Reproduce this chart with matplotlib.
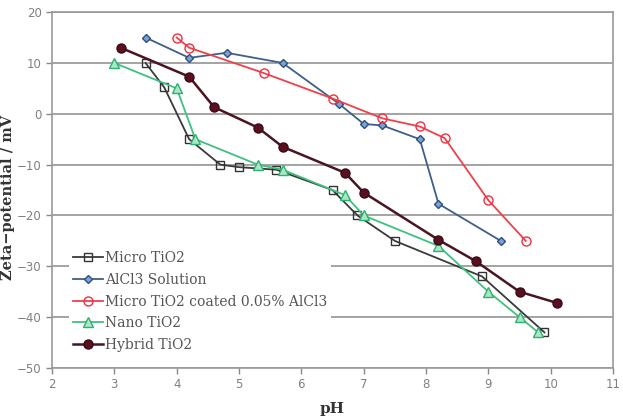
import matplotlib
matplotlib.use("Agg")
from matplotlib import pyplot as plt

# data
micro_ph = [3.5, 3.8, 4.2, 4.7, 5.0, 5.6, 6.5, 6.9, 7.5, 8.9, 9.9]
micro_zeta = [10, 5.2, -5, -10, -10.5, -11, -15, -20, -25, -32, -43]

alcl3_ph = [3.5, 4.2, 4.8, 5.7, 6.6, 7.0, 7.3, 7.9, 8.2, 9.2]
alcl3_zeta = [15, 11, 12, 10, 2, -2, -2.3, -5, -17.7, -25]

coated_ph = [4.0, 4.2, 5.4, 6.5, 7.3, 7.9, 8.3, 9.0, 9.6]
coated_zeta = [15, 13, 8, 3, -0.9, -2.5, -4.8, -17, -25]

nano_ph = [3.0, 4.0, 4.3, 5.3, 5.7, 6.7, 7.0, 8.2, 9.0, 9.5, 9.8]
nano_zeta = [10, 5, -5, -10, -11, -16, -20, -26, -35, -40, -43]

hybrid_ph = [3.1, 4.2, 4.6, 5.3, 5.7, 6.7, 7.0, 8.2, 8.8, 9.5, 10.1]
hybrid_zeta = [13, 7.3, 1.3, -2.7, -6.5, -11.6, -15.5, -24.8, -29, -35, -37.2]

fig = plt.figure(figsize=(6.23, 4.17), dpi=100)
ax = fig.add_axes([0.0835, 0.1175, 0.9005, 0.8535])

ax.plot(micro_ph, micro_zeta, color='#3a3a3a', marker='s', mfc='none', mec='#333333',
        ms=6, lw=1.3, label='Micro TiO2')
ax.plot(alcl3_ph, alcl3_zeta, color='#3e5f8c', marker='D', mfc='#7fa0d0', mec='#2e4f80',
        ms=4.5, lw=1.3, label='AlCl3 Solution')
ax.plot(coated_ph, coated_zeta, color='#f0404a', marker='o', mfc='none', mec='#f03040',
        ms=6.5, lw=1.3, label='Micro TiO2 coated 0.05% AlCl3')
ax.plot(nano_ph, nano_zeta, color='#40c080', marker='^', mfc='#a8e8c8', mec='#30b070',
        ms=6.5, lw=1.3, label='Nano TiO2')
ax.plot(hybrid_ph, hybrid_zeta, color='#4a1420', marker='o', mfc='#5a1020', mec='#3a0a14',
        ms=6.5, lw=1.8, label='Hybrid TiO2')

ax.set_xlim(2, 11)
ax.set_ylim(-50, 20)
ax.set_xticks(range(2, 12))
ax.set_yticks(range(-50, 30, 10))
ax.grid(axis='y', color='#8a8a8a', lw=1.1)
ax.set_axisbelow(True)
for s in ax.spines.values():
    s.set_color('#999999')
    s.set_linewidth(1.2)
ax.tick_params(colors='#888888', labelsize=8.5, length=4, width=1, direction='out')
for lab in ax.get_xticklabels() + ax.get_yticklabels():
    lab.set_color('#808080')

ax.set_xlabel('pH', family='DejaVu Serif', fontweight='bold', fontsize=11, color='#333333')
ax.xaxis.set_label_coords(0.5, -0.095)
ax.set_ylabel('Zeta\u2212potential / mV', family='DejaVu Serif', fontweight='bold',
              fontsize=10.5, color='#333333')
ax.yaxis.set_label_coords(-0.066, 0.48)

leg = ax.legend(loc='lower left', bbox_to_anchor=(0.017, 0.014), frameon=True,
                prop={'family': 'DejaVu Serif', 'size': 10}, handlelength=2.2,
                labelspacing=0.55, borderpad=0.3, handletextpad=0.1)
leg.get_frame().set_edgecolor('none')
leg.get_frame().set_facecolor('white')
leg.get_frame().set_alpha(1)
for t in leg.get_texts():
    t.set_color('#555555')

fig.savefig('out.png', dpi=100)
